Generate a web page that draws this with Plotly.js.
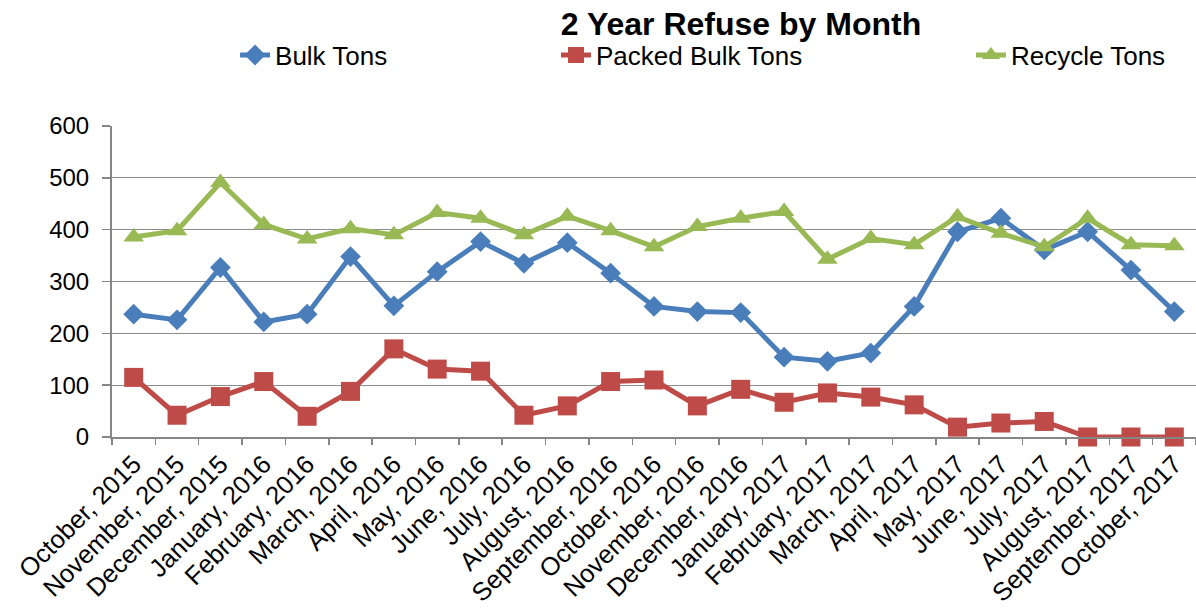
<!DOCTYPE html>
<html>
<head>
<meta charset="utf-8">
<script src="https://cdn.plot.ly/plotly-3.0.1.min.js"></script>
<style>html,body{margin:0;padding:0;background:#fff;}#chart{width:1196px;height:614px;}</style>
</head>
<body>
<div id="chart"></div>
<script>
const months = ["October, 2015","November, 2015","December, 2015","January, 2016","February, 2016","March, 2016","April, 2016","May, 2016","June, 2016","July, 2016","August, 2016","September, 2016","October, 2016","November, 2016","December, 2016","January, 2017","February, 2017","March, 2017","April, 2017","May, 2017","June, 2017","July, 2017","August, 2017","September, 2017","October, 2017"];
const bulkTons = [237,226,327,222,237,348,253,319,377,335,375,316,252,242,240,154,146,162,252,396,422,361,396,322,242];
const packedBulkTons = [115,42,78,107,40,88,170,131,127,42,60,107,110,60,92,67,85,77,62,19,27,30,0,0,0];
const recycleTons = [386,398,491,410,382,402,390,433,422,390,426,398,367,406,422,435,343,383,371,425,393,367,422,371,369];
const yTicks = [0,100,200,300,400,500,600];

const font = "Liberation Sans, Arial, sans-serif";
const traces = [
  {x: months, y: bulkTons, name: "Bulk Tons", type: "scatter", mode: "lines+markers", cliponaxis: false,
   line: {color: "#4a7ebb", width: 5}, marker: {symbol: "diamond", size: 16, color: "#4a7ebb"}, legend: "legend"},
  {x: months, y: packedBulkTons, name: "Packed Bulk Tons", type: "scatter", mode: "lines+markers", cliponaxis: false,
   line: {color: "#be4b48", width: 5}, marker: {symbol: "square", size: 19, color: "#be4b48"}, legend: "legend2"},
  {x: months, y: recycleTons, name: "Recycle Tons", type: "scatter", mode: "lines+markers", cliponaxis: false,
   line: {color: "#98b954", width: 5}, marker: {symbol: "triangle-up", size: 18, color: "#98b954"}, legend: "legend3"}
];
const legBase = {orientation: "h", yanchor: "middle", y: 1.228, xanchor: "left",
  font: {family: font, size: 26, color: "#000"}, bgcolor: "rgba(0,0,0,0)"};
const layout = {
  width: 1196, height: 614,
  margin: {l: 112, r: 0, t: 126, b: 177},
  paper_bgcolor: "#fff", plot_bgcolor: "#fff",
  title: {text: "<b>2 Year Refuse by Month</b>", font: {family: font, size: 32, color: "#000"},
    xref: "container", x: 0.6196, xanchor: "center", yref: "container", y: 0.962, yanchor: "middle"},
  showlegend: true,
  legend: Object.assign({}, legBase, {x: 0.1135}),
  legend2: Object.assign({}, legBase, {x: 0.4096}),
  legend3: Object.assign({}, legBase, {x: 0.7924}),
  xaxis: {type: "category", range: [-0.5, 24.5], tickangle: -45, tickfont: {family: font, size: 25.5, color: "#000"},
    showline: true, linecolor: "#868686", linewidth: 2, ticks: "outside", tickson: "boundaries",
    ticklen: 6, tickcolor: "#868686", tickwidth: 1.5, showgrid: false, zeroline: false, fixedrange: true},
  yaxis: {range: [0, 600], tickvals: yTicks, ticktext: yTicks.map(String),
    tickfont: {family: font, size: 24, color: "#000"}, showline: true, linecolor: "#868686", linewidth: 2,
    ticks: "outside", ticklen: 8, tickcolor: "#868686", tickwidth: 1.5, ticklabelstandoff: 8,
    showgrid: true, gridcolor: "#8c8c8c", gridwidth: 1.3, zeroline: false, fixedrange: true}
};
Plotly.newPlot("chart", traces, layout, {displayModeBar: false, staticPlot: true});
</script>
</body>
</html>
